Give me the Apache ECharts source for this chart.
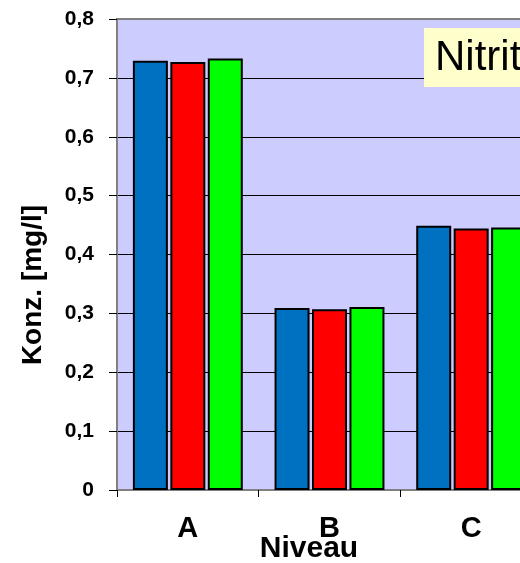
<!DOCTYPE html>
<html>
<head>
<meta charset="utf-8">
<script src="https://cdn.jsdelivr.net/npm/echarts@6/dist/echarts.min.js"></script>
<style>
  html, body { margin: 0; padding: 0; background: #ffffff; overflow: hidden; }
  #chart { width: 545px; height: 563px; }
</style>
</head>
<body>
<div id="chart"></div>
<script>
// Nitrite concentration per level, three measurement series
const categories = ['A', 'B', 'C'];
const seriesBlue = [0.729, 0.309, 0.449];
const seriesRed = [0.727, 0.307, 0.444];
const seriesGreen = [0.733, 0.311, 0.446];
const yTicks = [0, 0.1, 0.2, 0.3, 0.4, 0.5, 0.6, 0.7, 0.8];

const FONT = "'Liberation Sans', Arial, sans-serif";
const chart = echarts.init(document.getElementById('chart'), null, { renderer: 'canvas' });

const barStyle = (color) => ({
  type: 'bar',
  barWidth: 35,
  barGap: '7%',
  itemStyle: { color: color, borderColor: '#000000', borderWidth: 2 }
});

// split line colours: black inside, grey border on top
const splitColors = yTicks.map((v, i) => (i === yTicks.length - 1 ? '#808080' : '#000000'));

chart.setOption({
  animation: false,
  backgroundColor: '#ffffff',
  grid: {
    left: 117, top: 19, width: 425, height: 471,
    show: true, backgroundColor: '#CCCCFF', borderColor: '#808080', borderWidth: 2
  },
  xAxis: {
    type: 'category',
    data: categories,
    boundaryGap: true,
    axisLine: { show: true, lineStyle: { color: '#808080', width: 2 } },
    axisTick: { show: true, length: 7, lineStyle: { color: '#000000', width: 1 } },
    axisLabel: { fontFamily: FONT, fontWeight: 'bold', fontSize: 29, color: '#000000', margin: 24 },
    splitLine: { show: false }
  },
  yAxis: {
    type: 'value',
    min: 0, max: 0.8, interval: 0.1,
    axisLine: { show: true, lineStyle: { color: '#808080', width: 2 } },
    axisTick: { show: true, length: 8, lineStyle: { color: '#000000', width: 1 } },
    axisLabel: {
      fontFamily: FONT, fontWeight: 'bold', fontSize: 21, color: '#000000', margin: 23,
      formatter: (v) => (Math.round(v * 10) / 10).toString().replace('.', ',')
    },
    splitLine: { show: true, lineStyle: { color: splitColors, width: 1 } }
  },
  series: [
    Object.assign(barStyle('#0070C0'), { name: 'Serie 1', data: seriesBlue }),
    Object.assign(barStyle('#FF0000'), { name: 'Serie 2', data: seriesRed }),
    Object.assign(barStyle('#00FF00'), { name: 'Serie 3', data: seriesGreen })
  ],
  graphic: [
    {
      type: 'rect', left: 424, top: 28, z: 100,
      shape: { width: 140, height: 59 },
      style: { fill: '#FFFFCC' }
    },
    {
      type: 'text', x: 435, y: 58, z: 101,
      style: {
        text: 'Nitrit', fontFamily: FONT, fontSize: 42, fill: '#000000',
        align: 'left', verticalAlign: 'middle'
      }
    },
    {
      type: 'text', x: 309, y: 549, z: 101,
      style: {
        text: 'Niveau', fontFamily: FONT, fontWeight: 'bold', fontSize: 30, fill: '#000000',
        align: 'center', verticalAlign: 'middle'
      }
    },
    {
      type: 'text', x: 33, y: 285, rotation: Math.PI / 2, z: 101,
      style: {
        text: 'Konz. [mg/l]', fontFamily: FONT, fontWeight: 'bold', fontSize: 28, fill: '#000000',
        align: 'center', verticalAlign: 'middle'
      }
    }
  ]
});
</script>
</body>
</html>
